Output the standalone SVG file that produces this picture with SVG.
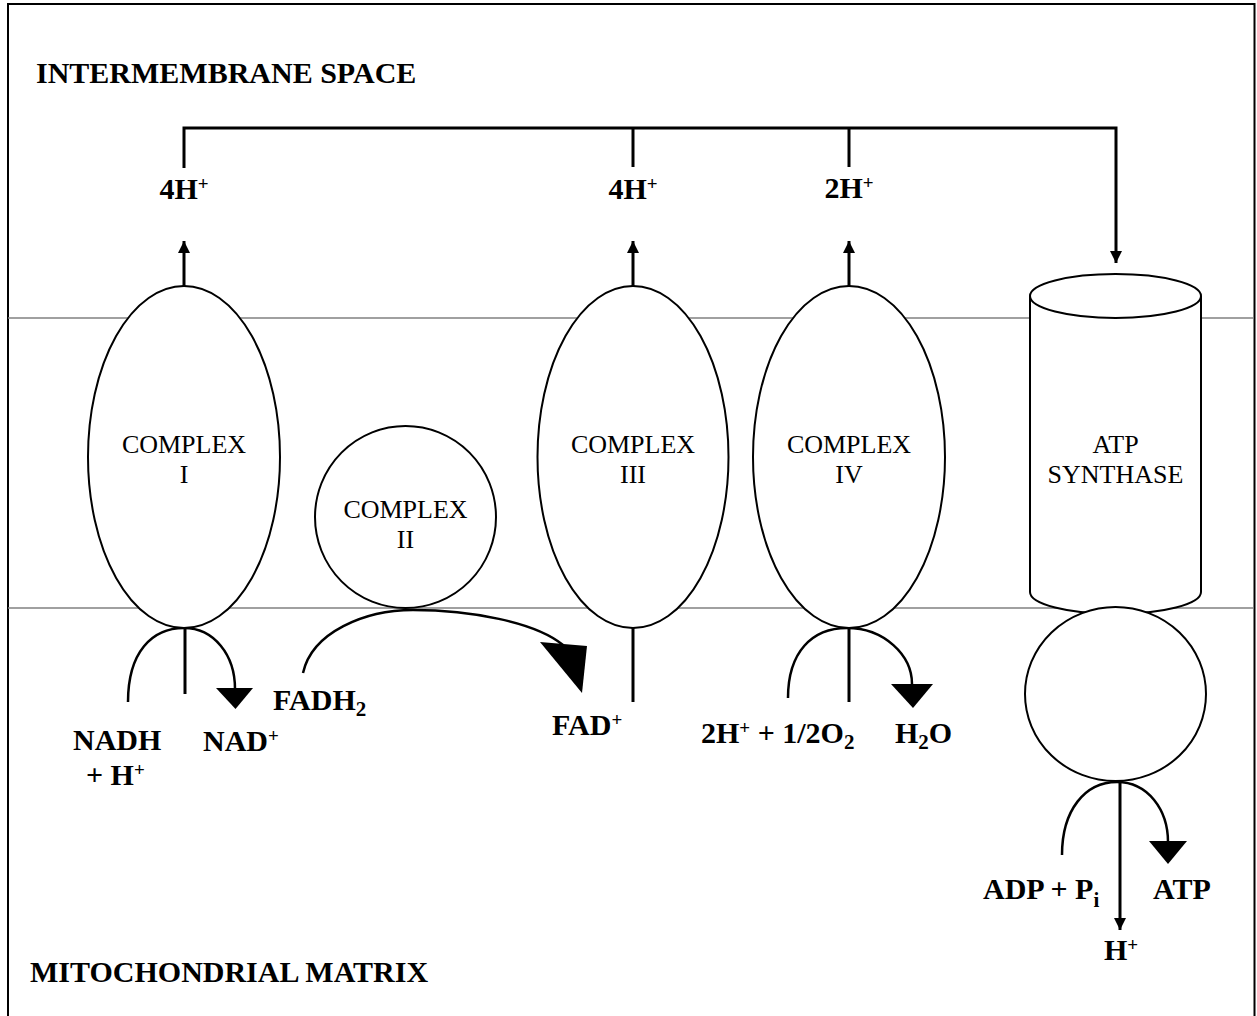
<svg xmlns="http://www.w3.org/2000/svg" width="1257" height="1016" viewBox="0 0 1257 1016">
<style>
.b{font-family:"Liberation Serif","Times New Roman",serif;font-weight:bold;font-size:30px;fill:#000}
.r{font-family:"Liberation Serif","Times New Roman",serif;font-size:26px;fill:#000;text-anchor:middle}
.sup{font-size:19px}
.sub{font-size:21px}
.node{fill:#fff;stroke:#000;stroke-width:2}
.mem{stroke:#808080;stroke-width:1.5;fill:none}
.ln{stroke:#000;stroke-width:3;fill:none}
.arc{stroke:#000;stroke-width:2.5;fill:none}
.head{fill:#000}
</style>
<defs>
<marker id="ah" viewBox="0 0 10 10" refX="10" refY="5" markerWidth="4" markerHeight="4" markerUnits="strokeWidth" orient="auto">
<path d="M0,0 L10,5 L0,10 z" fill="#000"/>
</marker>
</defs>
<rect x="0" y="0" width="1257" height="1016" fill="#fff"/>
<rect x="8" y="4" width="1246.5" height="1100" fill="none" stroke="#000" stroke-width="2"/>
<line class="mem" x1="8" y1="318" x2="1254" y2="318"/>
<line class="mem" x1="8" y1="608" x2="1254" y2="608"/>

<text class="b" x="36" y="83">INTERMEMBRANE SPACE</text>
<text class="b" x="30" y="982">MITOCHONDRIAL MATRIX</text>

<g id="connectors">
<path class="ln" d="M184,168 V128 H1116 V263" marker-end="url(#ah)"/>
<line class="ln" x1="633" y1="128" x2="633" y2="167"/>
<line class="ln" x1="849" y1="128" x2="849" y2="167"/>
<line class="ln" x1="184" y1="287" x2="184" y2="241" marker-end="url(#ah)"/>
<line class="ln" x1="633" y1="287" x2="633" y2="241" marker-end="url(#ah)"/>
<line class="ln" x1="849" y1="287" x2="849" y2="241" marker-end="url(#ah)"/>
<line class="ln" x1="185" y1="628" x2="185" y2="694"/>
<line class="ln" x1="633" y1="628" x2="633" y2="702"/>
<line class="ln" x1="849" y1="628" x2="849" y2="702"/>
<line class="ln" x1="1120" y1="781" x2="1120" y2="930" marker-end="url(#ah)"/>
<path class="arc" d="M128,702 C128,652 152,628 184,628 C214,628 235,655 235,689"/>
<polygon class="head" points="216,688 253,688 235.5,709"/>
<path class="arc" d="M303,673 C312,632 365,610 413,610 C470,610 535,622 563,645"/>
<polygon class="head" points="540,642 587,646 582,693"/>
<path class="arc" d="M788,698 C788,652 812,628 847,628 C884,628 912,655 912,684"/>
<polygon class="head" points="891,684 933,684 913,708"/>
<path class="arc" d="M1062,855 C1062,810 1085,782 1117,782 C1148,782 1168,810 1168,842"/>
<polygon class="head" points="1149,841 1187,841 1168,864"/>
</g>

<g id="complex1">
<ellipse class="node" cx="184" cy="457" rx="96" ry="171"/>
<text class="r" x="184" y="453">COMPLEX</text>
<text class="r" x="184" y="483">I</text>
</g>
<g id="complex2">
<ellipse class="node" cx="405.5" cy="517" rx="90.5" ry="91"/>
<text class="r" x="405.5" y="518">COMPLEX</text>
<text class="r" x="405.5" y="548">II</text>
</g>
<g id="complex3">
<ellipse class="node" cx="633" cy="457" rx="95.5" ry="171"/>
<text class="r" x="633" y="453">COMPLEX</text>
<text class="r" x="633" y="483">III</text>
</g>
<g id="complex4">
<ellipse class="node" cx="849" cy="457" rx="96" ry="171"/>
<text class="r" x="849" y="453">COMPLEX</text>
<text class="r" x="849" y="483">IV</text>
</g>
<g id="atp-synthase">
<path class="node" d="M1030,296 V592 A85.5,22 0 0 0 1201,592 V296"/>
<ellipse class="node" cx="1115.5" cy="296" rx="85.5" ry="22"/>
<text class="r" x="1115.5" y="453">ATP</text>
<text class="r" x="1115.5" y="483">SYNTHASE</text>
</g>
<g id="f1">
<ellipse class="node" cx="1115.5" cy="694" rx="90.5" ry="87"/>
</g>

<g id="labels">
<text class="b" x="184" y="199" text-anchor="middle">4H<tspan class="sup" dy="-9">+</tspan></text>
<text class="b" x="633" y="199" text-anchor="middle">4H<tspan class="sup" dy="-9">+</tspan></text>
<text class="b" x="849" y="198" text-anchor="middle">2H<tspan class="sup" dy="-9">+</tspan></text>
<text class="b" x="73" y="750">NADH</text>
<text class="b" x="86" y="785">+ H<tspan class="sup" dy="-9">+</tspan></text>
<text class="b" x="203" y="751">NAD<tspan class="sup" dy="-9">+</tspan></text>
<text class="b" x="273" y="710">FADH<tspan class="sub" dy="6">2</tspan></text>
<text class="b" x="552" y="735">FAD<tspan class="sup" dy="-9">+</tspan></text>
<text class="b" x="701" y="743">2H<tspan class="sup" dy="-9">+</tspan><tspan dy="9"> + 1/2O</tspan><tspan class="sub" dy="6">2</tspan></text>
<text class="b" x="895" y="743">H<tspan class="sub" dy="6">2</tspan><tspan dy="-6">O</tspan></text>
<text class="b" x="983" y="899">ADP + P<tspan class="sub" dy="8">i</tspan></text>
<text class="b" x="1153" y="899">ATP</text>
<text class="b" x="1104" y="960">H<tspan class="sup" dy="-9">+</tspan></text>
</g>
</svg>
